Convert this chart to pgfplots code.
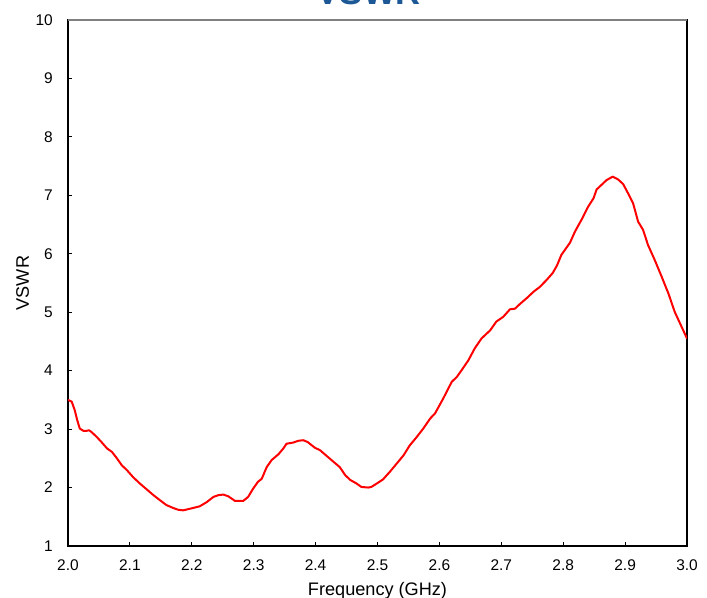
\documentclass[border=0pt]{standalone}
\usepackage{pgfplots}
\pgfplotsset{compat=1.18}
\usepackage{fontspec}
\setmainfont{Liberation Sans}
\definecolor{titleblue}{RGB}{28,88,150}
\definecolor{topgray}{RGB}{128,128,128}

\begin{document}
\begin{tikzpicture}
\begin{axis}[
  scale only axis,
  width=464.25pt, height=394.5pt,
  xmin=2, xmax=3, ymin=1, ymax=10,
  xtick={2,2.1,2.2,2.3,2.4,2.5,2.6,2.7,2.8,2.9,3},
  ytick={1,2,3,4,5,6,7,8,9,10},
  xtick pos=left, ytick pos=left,
  tick align=inside,
  major tick length=3pt,
  tick style={black, line width=0.8pt},
  axis line style={black, line width=0.9pt},
  /pgf/number format/assume math mode=true,
  xticklabel style={/pgf/number format/.cd, fixed, fixed zerofill, precision=1, /tikz/.cd,
    anchor=base, yshift=-18.5pt, inner sep=0pt, font=\fontsize{11.6}{14}\selectfont},
  yticklabel style={anchor=east, inner sep=0pt, xshift=-11.25pt,
    font=\fontsize{11.6}{14}\selectfont},
  xlabel={Frequency (GHz)},
  ylabel={VSWR},
  xlabel style={at={(axis description cs:0.5,-0.0932)}, anchor=base, inner sep=0pt,
    font=\fontsize{13.6}{16}\selectfont},
  ylabel style={at={(axis description cs:-0.063,0.5)}, anchor=base, inner sep=0pt,
    font=\fontsize{13.6}{16}\selectfont},
]
\addplot[red, line width=1.5pt, line join=round, mark=none] coordinates {
(2.000,3.50) (2.006,3.47) (2.011,3.32) (2.015,3.15) (2.019,3.01)
(2.025,2.97) (2.030,2.97) (2.034,2.98) (2.038,2.95) (2.046,2.87)
(2.054,2.78) (2.063,2.67) (2.071,2.61) (2.079,2.50) (2.087,2.38)
(2.095,2.30) (2.105,2.18) (2.116,2.07) (2.127,1.97) (2.138,1.87)
(2.149,1.78) (2.159,1.70) (2.170,1.65) (2.178,1.62) (2.186,1.61)
(2.194,1.63) (2.202,1.65) (2.213,1.68) (2.224,1.75) (2.235,1.84)
(2.243,1.87) (2.251,1.88) (2.259,1.85) (2.270,1.77) (2.283,1.77)
(2.291,1.84) (2.299,1.98) (2.307,2.10) (2.313,2.15) (2.321,2.35)
(2.329,2.47) (2.340,2.57) (2.348,2.67) (2.353,2.75) (2.364,2.77)
(2.372,2.80) (2.380,2.81) (2.387,2.78) (2.399,2.68) (2.407,2.64)
(2.418,2.54) (2.429,2.44) (2.439,2.35) (2.448,2.21) (2.456,2.13)
(2.466,2.07) (2.474,2.01) (2.485,2.00) (2.490,2.01) (2.499,2.07)
(2.509,2.14) (2.520,2.27) (2.531,2.41) (2.542,2.55) (2.552,2.72)
(2.563,2.86) (2.574,3.01) (2.585,3.18) (2.593,3.27) (2.606,3.52)
(2.620,3.81) (2.628,3.89) (2.636,4.01) (2.647,4.18) (2.657,4.38)
(2.668,4.55) (2.682,4.69) (2.692,4.84) (2.703,4.92) (2.714,5.05)
(2.722,5.06) (2.730,5.14) (2.741,5.24) (2.752,5.35) (2.762,5.43)
(2.773,5.55) (2.783,5.67) (2.790,5.80) (2.797,5.98) (2.811,6.19)
(2.819,6.38) (2.830,6.59) (2.840,6.80) (2.849,6.95) (2.854,7.10)
(2.862,7.18) (2.870,7.26) (2.880,7.32) (2.889,7.27) (2.897,7.19)
(2.905,7.03) (2.913,6.86) (2.921,6.55) (2.929,6.41) (2.937,6.15)
(2.948,5.89) (2.959,5.61) (2.970,5.32) (2.980,5.01) (3.000,4.55)
};
\draw[topgray, line width=1pt] (rel axis cs:0,1) -- (rel axis cs:1,1);
\end{axis}
\path (current axis.north west) ++(225.6pt,11.6pt)
  node[anchor=base, inner sep=0pt, font=\fontsize{26}{30}\selectfont\bfseries,
    text=titleblue] {VSWR};
\pgfresetboundingbox
\useasboundingbox ([shift={(-51pt,-39pt)}]current axis.south west)
  rectangle ([shift={(15pt,15pt)}]current axis.north east);
\end{tikzpicture}
\end{document}
